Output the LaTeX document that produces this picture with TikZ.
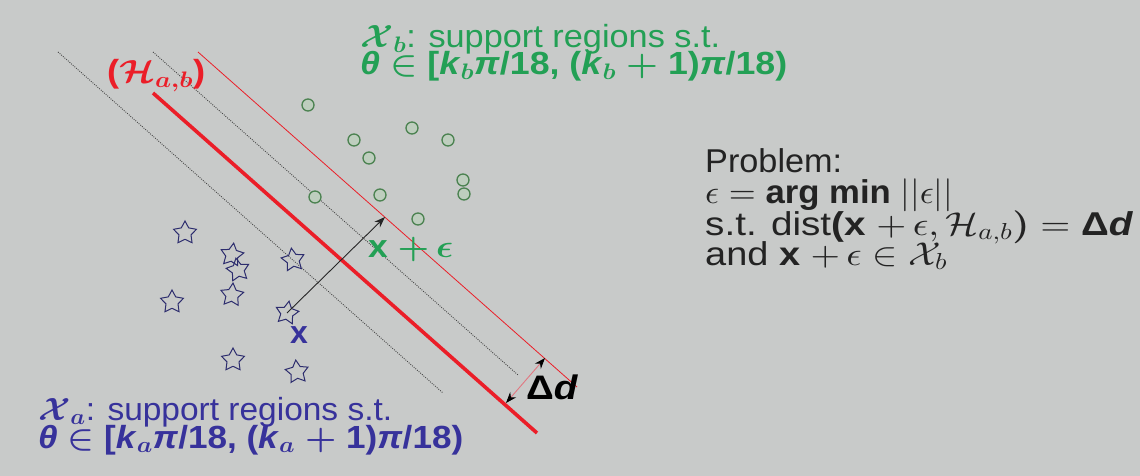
\documentclass[tikz,border=0pt]{standalone}
\usepackage{amsmath}
\usepackage{graphicx}
\usepackage{fontspec}
\setmainfont{Liberation Sans}
\DeclareFontShape{OML}{cmm}{m}{it}{<->cmmi10}{}
\DeclareFontShape{OML}{cmm}{b}{it}{<->cmmib10}{}
\DeclareFontShape{OMS}{cmsy}{m}{n}{<->cmsy10}{}
\DeclareFontShape{OMS}{cmsy}{b}{n}{<->cmbsy10}{}
\DeclareFontShape{OMX}{cmex}{m}{n}{<->cmex10}{}
\DeclareFontShape{OT1}{cmr}{m}{n}{<->cmr10}{}
\DeclareFontShape{OT1}{cmr}{bx}{n}{<->cmbx10}{}
\usetikzlibrary{shapes.geometric,arrows.meta}
\definecolor{bgcol}{RGB}{200,202,201}
\definecolor{greentxt}{RGB}{35,160,85}
\definecolor{bluetxt}{RGB}{55,50,155}
\definecolor{redcol}{RGB}{235,30,40}
\definecolor{starcol}{RGB}{45,45,110}
\definecolor{circcol}{RGB}{75,130,80}
\definecolor{circfill}{RGB}{190,206,190}
\definecolor{dotcol}{RGB}{70,70,70}
\definecolor{ddcol}{RGB}{225,120,130}
\definecolor{darktxt}{RGB}{35,35,35}
\newcommand{\kk}[1]{\textbf{\textit{k}}$_{\boldsymbol{#1}}$}
\newcommand{\bth}{\textbf{\textit{θ}}}
\newcommand{\bpi}{\textbf{\textit{π}}}
\newcommand{\fitw}[2]{\resizebox{#1pt}{\height}{#2}}
\begin{document}
\begin{tikzpicture}[x=1pt,y=-1pt,
  txt/.style={inner sep=0pt, anchor=base west, font=\fontsize{32}{27}\selectfont},
  ptxt/.style={inner sep=0pt, anchor=base west, text=darktxt, font=\fontsize{33}{31}\selectfont},
  starnode/.style={star, star points=5, star point ratio=1.9, draw=starcol, line width=1pt, minimum size=24pt, inner sep=0pt},
  circnode/.style={circle, draw=circcol, fill=circfill, line width=1.3pt, minimum size=12pt, inner sep=0pt},
  dotline/.style={draw=dotcol, line width=0.9pt, dash pattern=on 0.9pt off 1.3pt},
]
\fill[bgcol] (0,0) rectangle (1140,476);
\useasboundingbox (0,0) rectangle (1140,476);

% parallel lines
\coordinate (ld1) at (58,52);  \coordinate (ld2) at (443,393);
\coordinate (r1) at (153,93);  \coordinate (r2) at (537,433);
\coordinate (id1) at (153,52); \coordinate (id2) at (518,375);
\coordinate (tr1) at (198,52); \coordinate (tr2) at (577,387);
\draw[dotline] (ld1) -- (ld2);
\draw[dotline] (id1) -- (id2);
\draw[redcol, line width=0.8pt] (tr1) -- (tr2);
\draw[redcol, line width=3.6pt] (r1) -- (r2);

% stars (class a)
\node[starnode] (s1) at (185,233) {};
\node[starnode, rotate=-8] (s2) at (232,255) {};
\node[starnode, rotate=10] (s3) at (238,270) {};
\node[starnode, rotate=-5] (s4) at (232,295) {};
\node[starnode] (s5) at (172,302) {};
\node[starnode, rotate=8] (s6) at (293,260) {};
\node[starnode, rotate=-10] (xs) at (287,313) {};
\node[starnode] (s8) at (233,360) {};
\node[starnode, rotate=6] (s9) at (297,372) {};

% circles (class b)
\node[circnode] (c1) at (308,105) {};
\node[circnode] (c2) at (354,140) {};
\node[circnode] (c3) at (369,158) {};
\node[circnode] (c4) at (412,128) {};
\node[circnode] (c5) at (448,140) {};
\node[circnode] (c6) at (463,180) {};
\node[circnode] (c7) at (464,194) {};
\node[circnode] (c8) at (315,197) {};
\node[circnode] (c9) at (380,195) {};
\node[circnode] (c10) at (418,219) {};

% perturbation arrow
\coordinate (xe) at (385,217);
\draw[black!85, line width=0.9pt, -{Stealth[length=11pt,width=8pt]}] (xs.center) -- (xe);

% delta d arrow
\coordinate (dd1) at (506,403);
\coordinate (dd2) at (545,358);
\draw[ddcol, line width=0.9pt, {Stealth[black,length=11pt,width=8pt]}-{Stealth[black,length=11pt,width=8pt]}] (dd1) -- (dd2);
\node[txt, text=black] (ddl) at (526,399) {\fitw{52}{\fontsize{34}{34}\selectfont\textbf{Δ\textit{d}}}};

% labels
\node[txt, text=redcol] (hl) at (107,83) {\fitw{98}{\textbf{(}$\boldsymbol{\mathcal{H}}_{\boldsymbol{a,b}}$\textbf{)}}};
\node[txt, text=bluetxt] (xl) at (290,343) {\textbf{x}};
\node[txt, text=greentxt] (xel) at (368,257) {\fitw{85}{\textbf{x} $\boldsymbol{+\,\epsilon}$}};

% class texts
\node[txt, text=greentxt] (gb1) at (360,48) {\fitw{360}{$\boldsymbol{\mathcal{X}}_{\boldsymbol{b}}$: support regions s.t.}};
\node[txt, text=greentxt] (gb2) at (360,75) {\fitw{427}{\bth{} $\boldsymbol{\in}$ \textbf{[}\kk{b}\bpi\textbf{/18, (}\kk{b} $\boldsymbol{+}$ \textbf{1)}\bpi\textbf{/18)}}};
\node[txt, text=bluetxt] (ba1) at (38,420) {\fitw{354}{$\boldsymbol{\mathcal{X}}_{\boldsymbol{a}}$: support regions s.t.}};
\node[txt, text=bluetxt] (ba2) at (38,448) {\fitw{425}{\bth{} $\boldsymbol{\in}$ \textbf{[}\kk{a}\bpi\textbf{/18, (}\kk{a} $\boldsymbol{+}$ \textbf{1)}\bpi\textbf{/18)}}};

% problem statement
\node[ptxt] (p1) at (705,172) {\fitw{137}{Problem:}};
\node[ptxt] (p2) at (705,203) {\fitw{248}{$\epsilon =$ \textbf{arg min} $||\epsilon||$}};
\node[ptxt] (p3) at (705,235) {\fitw{428}{s.t. dist\textbf{(x} $+\,\epsilon,\mathcal{H}_{a,b}\boldsymbol{)} =$ \textbf{Δ\textit{d}}}};
\node[ptxt] (p4) at (705,265) {\fitw{242}{and \textbf{x} $+\,\epsilon\in\mathcal{X}_b$}};
\end{tikzpicture}
\end{document}
